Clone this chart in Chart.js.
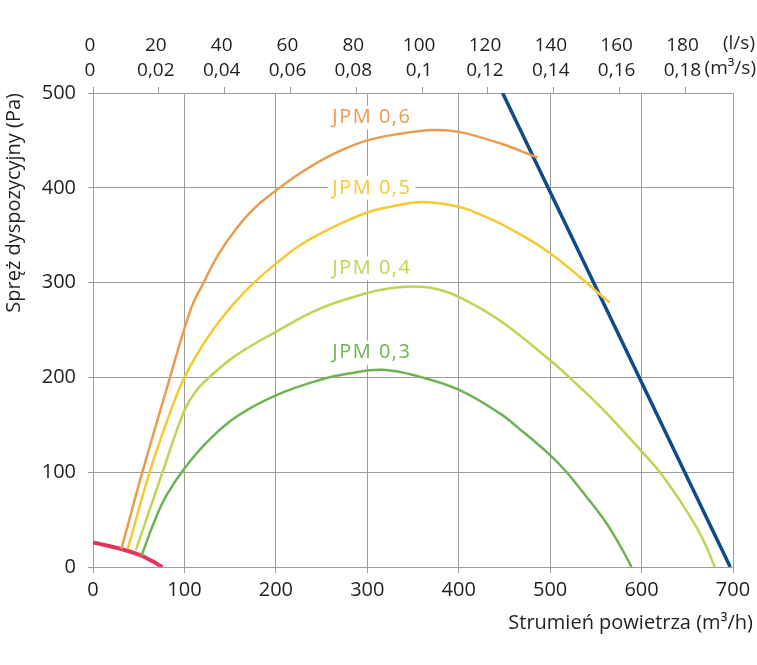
<!DOCTYPE html>
<html>
<head>
<meta charset="utf-8">
<script src="https://cdn.jsdelivr.net/npm/chart.js@4/dist/chart.umd.min.js"></script>
<style>
  html, body { margin: 0; padding: 0; background: #fff; }
  #wrap { width: 757px; height: 665px; }
</style>
</head>
<body>
<div id="wrap"><canvas id="myChart" width="757" height="665"></canvas></div>
<script>
/* Data: [flow m3/h, pressure Pa] */
const jpm06 = [[31,19],[54,100],[80,186],[107,272],[121,300],[138,331],[156,356],[175,377],[200,397],[229,417],[266,437],[300,450],[336,457],[372,461],[400,459],[445,447],[486,432]];
const jpm05 = [[38,19],[62,100],[84,162],[100,200],[120,234],[138,259],[156,280],[175,299],[200,320],[229,341],[266,360],[300,374],[330,381],[361,385],[400,380],[423,372],[450,360],[500,331],[565,279]];
const jpm04 = [[47,18],[76,100],[100,165],[113,186],[127,200],[156,223],[200,248],[247,272],[300,289],[325,294],[350,296],[372,294],[400,285],[445,260],[500,218],[521,200],[558,166],[600,122],[620,100],[642,70],[660,42],[671,21],[680,0]];
const jpm03 = [[53,12],[68,50],[80,75],[100,104],[127,134],[156,158],[200,181],[247,197],[280,204],[317,208],[360,200],[400,187],[445,162],[466,146],[500,118],[518,100],[539,75],[561,47],[578,20],[589,0]];
const minCurve = [[0,26],[31,19],[53,12],[65,6],[76,0]];
const maxCurve = [[448,500],[697,0]];

const flowTicks = [0, 100, 200, 300, 400, 500, 600, 700];   // m3/h
const pressTicks = [0, 100, 200, 300, 400, 500];            // Pa
const lsStep = 20;                                           // l/s on top axis

const curveNames = ['JPM 0,6', 'JPM 0,5', 'JPM 0,4', 'JPM 0,3'];
const curveColors = ['#EB9B4D', '#F5C932', '#BDD552', '#6DB352'];

const gridColor = '#9c9c9c';
const textColor = '#231f20';
Chart.defaults.font.family = "'Open Sans', sans-serif";
Chart.defaults.font.size = 20;
Chart.defaults.color = textColor;

function pts(arr) { return arr.map(p => ({ x: p[0], y: p[1] })); }

// curve labels on white boxes (anchored in data units), units and x title
const curveLabels = {
    id: 'curveLabels',
    beforeDatasetsDraw(chart) {
        const c = chart.ctx, xs = chart.scales.x, ys = chart.scales.y;
        const anchors = [[305, 474], [305, 400], [305, 315], [305, 226]];
        c.save();
        c.font = "20px 'Open Sans', sans-serif";
        c.letterSpacing = '1.5px';
        c.textAlign = 'center';
        c.textBaseline = 'middle';
        curveNames.forEach((t, i) => {
            const px = xs.getPixelForValue(anchors[i][0]);
            const py = ys.getPixelForValue(anchors[i][1]);
            const w = c.measureText(t).width;
            c.fillStyle = '#fff';
            c.fillRect(px - w / 2 - 4, py - 12, w + 8, 24);
            c.fillStyle = curveColors[i];
            c.fillText(t, px, py);
        });
        c.letterSpacing = '0px';
        c.fillStyle = textColor;
        c.textAlign = 'right';
        c.fillText('Strumień powietrza (m\u00B3/h)', 753, xs.top + 56);
        const top = chart.scales.x2;
        c.font = "19px 'Open Sans', sans-serif";
        c.fillText('(l/s)', 755, top.bottom - 49);
        c.fillText('(m\u00B3/s)', 756, top.bottom - 24);
        c.restore();
    }
};

const ctx = document.getElementById('myChart');
const datasets = [jpm06, jpm05, jpm04, jpm03].map((d, i) => ({
    label: curveNames[i],
    data: pts(d),
    borderColor: curveColors[i],
    borderWidth: 2.5,
    tension: 0.4
}));
datasets.push({ label: 'min', data: pts(minCurve), borderColor: '#E1375F', borderWidth: 4, tension: 0.4 });
datasets.push({ label: 'max', data: pts(maxCurve), borderColor: '#0D4C87', borderWidth: 3.5, tension: 0 });

var myChart = new Chart(ctx, {
    type: 'scatter',
    data: { datasets: datasets },
    options: {
        responsive: false,
        animation: false,
        showLine: true,
        elements: { point: { radius: 0 } },
        layout: { padding: { right: 24 } },
        plugins: { legend: { display: false }, tooltip: { enabled: false } },
        scales: {
            x: {
                type: 'linear', position: 'bottom',
                min: flowTicks[0], max: flowTicks[flowTicks.length - 1],
                afterBuildTicks: s => { s.ticks = flowTicks.map(v => ({ value: v })); },
                afterFit: s => { s.height = 98; },
                ticks: { padding: 5 },
                grid: { color: gridColor, tickLength: 6 },
                border: { color: gridColor }
            },
            x2: {
                type: 'linear', position: 'top',
                min: 0, max: flowTicks[flowTicks.length - 1] / 3.6,
                afterFit: s => { s.height = 93; },
                ticks: {
                    stepSize: lsStep, includeBounds: false, padding: 4, labelOffset: -3,
                    font: { size: 19, lineHeight: 1.3 },
                    callback: v => [String(v), String(v / 1000).replace('.', ',')]
                },
                grid: { drawOnChartArea: false, color: gridColor, tickLength: 6 },
                border: { color: gridColor }
            },
            y: {
                min: pressTicks[0], max: pressTicks[pressTicks.length - 1],
                afterBuildTicks: s => { s.ticks = pressTicks.map(v => ({ value: v })); },
                afterFit: s => { s.width = 93; },
                ticks: { padding: 12 },
                grid: { color: gridColor, tickLength: 5 },
                border: { color: gridColor },
                title: { display: true, text: 'Spręż dyspozycyjny (Pa)', align: 'end', padding: { top: 2, bottom: 0 } }
            }
        }
    },
    plugins: [curveLabels]
});
</script>
</body>
</html>
